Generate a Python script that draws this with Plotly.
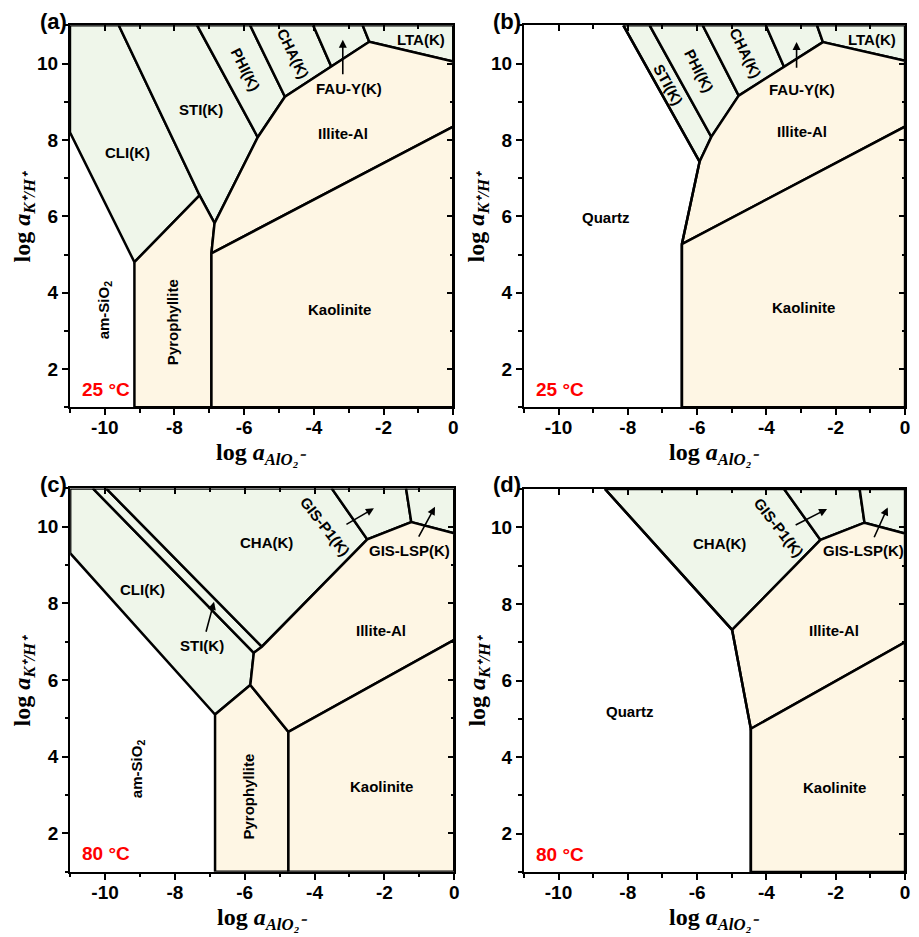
import plotly.graph_objects as go

W, H = 919, 937
OFF = 8  # default page body margin in the written html
FW, FH = W - OFF, H - OFF
GREEN = "rgb(239,246,234)"
BEIGE = "rgb(254,246,228)"

# tick labels
x_tickvals = [-10, -8, -6, -4, -2, 0]
x_ticktext = ["-10", "-8", "-6", "-4", "-2", "0"]
y_tickvals = [2, 4, 6, 8, 10]
y_ticktext = ["2", "4", "6", "8", "10"]
x_range = [-11, 0]
y_range = [1, 11]

# ---- panel (a): 25 °C, with am-SiO2 ----
a_zeolites = {
    "CLI": [(-11, 8.2), (-11, 11), (-9.6, 11), (-7.28, 6.55), (-9.15, 4.8)],
    "STI": [(-9.6, 11), (-7.35, 11), (-5.61, 8.07), (-6.85, 5.82), (-7.28, 6.55)],
    "PHI": [(-7.35, 11), (-5.83, 11), (-4.83, 9.13), (-5.61, 8.07)],
    "CHA": [(-5.83, 11), (-4.02, 11), (-3.5, 9.92), (-4.83, 9.13)],
    "FAU": [(-4.02, 11), (-2.6, 11), (-2.41, 10.57), (-3.5, 9.92)],
    "LTA": [(-2.6, 11), (0, 11), (0, 10.05), (-2.41, 10.57)],
}
a_clays = {
    "Pyrophyllite": [(-9.15, 4.8), (-7.28, 6.55), (-6.85, 5.82), (-6.94, 5.03), (-6.94, 1), (-9.15, 1)],
    "Illite": [(-6.85, 5.82), (-5.61, 8.07), (-4.83, 9.13), (-3.5, 9.92), (-2.41, 10.57),
               (0, 10.05), (0, 8.35), (-6.94, 5.03)],
    "Kaolinite": [(-6.94, 5.03), (0, 8.35), (0, 1), (-6.94, 1)],
}

# ---- panel (b): 25 °C, with quartz ----
b_zeolites = {
    "STI": [(-8.13, 11), (-7.37, 11), (-5.59, 8.08), (-5.93, 7.43)],
    "PHI": [(-7.37, 11), (-5.84, 11), (-4.8, 9.16), (-5.59, 8.08)],
    "CHA": [(-5.84, 11), (-4.02, 11), (-3.49, 9.91), (-4.8, 9.16)],
    "FAU": [(-4.02, 11), (-2.54, 11), (-2.37, 10.56), (-3.49, 9.91)],
    "LTA": [(-2.54, 11), (0, 11), (0, 10.07), (-2.37, 10.56)],
}
b_clays = {
    "Illite": [(-5.93, 7.43), (-5.59, 8.08), (-4.8, 9.16), (-3.49, 9.91), (-2.37, 10.56),
               (0, 10.07), (0, 8.35), (-6.44, 5.27)],
    "Kaolinite": [(-6.44, 5.27), (0, 8.35), (0, 1), (-6.44, 1)],
}
b_lines = [[(-8.13, 11), (-5.93, 7.43), (-6.44, 5.27), (-6.44, 1)]]

# ---- panel (c): 80 °C, with am-SiO2 ----
c_zeolites = {
    "CLI": [(-11, 9.31), (-11, 11), (-10.35, 11), (-5.74, 6.71), (-5.84, 5.87), (-6.85, 5.1)],
    "STI": [(-10.35, 11), (-9.97, 11), (-5.51, 6.87), (-5.74, 6.71)],
    "CHA": [(-9.97, 11), (-3.51, 11), (-2.49, 9.67), (-5.51, 6.87)],
    "GISP1": [(-3.51, 11), (-1.38, 11), (-1.23, 10.12), (-2.49, 9.67)],
    "GISLSP": [(-1.38, 11), (0, 11), (0, 9.83), (-1.23, 10.12)],
}
c_clays = {
    "Pyrophyllite": [(-6.85, 5.1), (-5.84, 5.87), (-4.75, 4.65), (-4.75, 1), (-6.85, 1)],
    "Illite": [(-5.84, 5.87), (-5.74, 6.71), (-5.51, 6.87), (-2.49, 9.67), (-1.23, 10.12),
               (0, 9.83), (0, 7.05), (-4.75, 4.65)],
    "Kaolinite": [(-4.75, 4.65), (0, 7.05), (0, 1), (-4.75, 1)],
}

# ---- panel (d): 80 °C, with quartz ----
d_zeolites = {
    "CHA": [(-8.66, 11), (-3.49, 11), (-2.44, 9.67), (-4.99, 7.32)],
    "GISP1": [(-3.49, 11), (-1.31, 11), (-1.17, 10.12), (-2.44, 9.67)],
    "GISLSP": [(-1.31, 11), (0, 11), (0, 9.84), (-1.17, 10.12)],
}
d_clays = {
    "Illite": [(-4.99, 7.32), (-2.44, 9.67), (-1.17, 10.12), (0, 9.84), (0, 7.0), (-4.45, 4.74)],
    "Kaolinite": [(-4.45, 4.74), (0, 7.0), (0, 1), (-4.45, 1)],
}
d_lines = [[(-8.66, 11), (-4.99, 7.32), (-4.45, 4.74), (-4.45, 1)]]

# region labels: (text, x, y, angle)
a_labels = [("CLI(K)", -9.35, 7.66, 0), ("STI(K)", -7.23, 8.8, 0), ("PHI(K)", -5.97, 9.83, 63),
            ("CHA(K)", -4.59, 10.27, 64), ("Illite-Al", -3.17, 8.17, 0), ("LTA(K)", -0.93, 10.63, 0),
            ("FAU-Y(K)", -2.98, 9.35, 0), ("am-SiO<sub>2</sub>", -10.01, 3.55, -90),
            ("Pyrophyllite", -8.06, 3.24, -90), ("Kaolinite", -3.26, 3.57, 0)]
b_labels = [("STI(K)", -6.84, 9.44, 61), ("PHI(K)", -5.95, 9.81, 63), ("CHA(K)", -4.59, 10.27, 64),
            ("FAU-Y(K)", -2.97, 9.31, 0), ("Illite-Al", -2.98, 8.23, 0), ("LTA(K)", -0.96, 10.63, 0),
            ("Quartz", -8.63, 5.97, 0), ("Kaolinite", -2.92, 3.62, 0)]
c_labels = [("CHA(K)", -5.39, 9.58, 0), ("CLI(K)", -8.93, 8.37, 0), ("STI(K)", -7.23, 6.89, 0),
            ("Illite-Al", -2.11, 7.3, 0), ("GIS-P1(K)", -3.7, 10.0, 52), ("GIS-LSP(K)", -1.28, 9.39, 0),
            ("am-SiO<sub>2</sub>", -9.07, 3.69, -90), ("Pyrophyllite", -5.89, 2.95, -90),
            ("Kaolinite", -2.09, 3.21, 0)]
d_labels = [("CHA(K)", -5.36, 9.57, 0), ("GIS-P1(K)", -3.64, 10.0, 52), ("GIS-LSP(K)", -1.21, 9.39, 0),
            ("Illite-Al", -2.06, 7.3, 0), ("Quartz", -7.94, 5.19, 0), ("Kaolinite", -2.03, 3.21, 0)]

# arrows: (tail_x, tail_y, head_x, head_y)
a_arrows = [(-3.17, 9.68, -3.17, 10.62)]
b_arrows = [(-3.13, 9.85, -3.13, 10.56)]
c_arrows = [(-7.12, 7.22, -6.88, 8.04), (-3.13, 10.04, -2.3, 10.48), (-1.04, 9.7, -0.55, 10.52)]
d_arrows = [(-3.2, 10.04, -2.25, 10.48), (-0.91, 9.7, -0.5, 10.52)]

temps = ["25 °C", "25 °C", "80 °C", "80 °C"]
panel_tags = ["(a)", "(b)", "(c)", "(d)"]

# layout geometry (screen pixels)
x_px = [(70.3, 455.7), (526.7, 910.0), (70.5, 456.7), (526.7, 910.0)]
y_px = [(25.3, 407.3), (25.3, 407.3), (488.4, 871.7), (489.0, 872.0)]


def fx(px):
    return (px - OFF) / FW


def fy(py):
    return 1 - (py - OFF) / FH


panels = [
    (a_zeolites, a_clays, [], a_labels, a_arrows),
    (b_zeolites, b_clays, b_lines, b_labels, b_arrows),
    (c_zeolites, c_clays, [], c_labels, c_arrows),
    (d_zeolites, d_clays, d_lines, d_labels, d_arrows),
]

fig = go.Figure()
annotations = []
LW = 2.5
lab_font = dict(family="Liberation Sans, Arial", size=15, color="black", weight="bold")
ttl_font = dict(family="Liberation Serif, Times New Roman", size=24, color="black", weight="bold")
xtitle = "log <i>a</i><sub><i>AlO₂⁻</i></sub>"
ytitle = "log <i>a</i><sub><i>K⁺/H⁺</i></sub>"

for i, (zeo, clay, lines, labels, arrows) in enumerate(panels):
    n = i + 1
    xr = "x" if n == 1 else f"x{n}"
    yr = "y" if n == 1 else f"y{n}"
    for group, col in ((zeo, GREEN), (clay, BEIGE)):
        for name, pts in group.items():
            xs = [p[0] for p in pts] + [pts[0][0]]
            ys = [p[1] for p in pts] + [pts[0][1]]
            fig.add_trace(go.Scatter(x=xs, y=ys, mode="lines", fill="toself", fillcolor=col,
                                     line=dict(color="black", width=LW), xaxis=xr, yaxis=yr,
                                     showlegend=False, hoverinfo="skip", name=name))
    for pts in lines:
        fig.add_trace(go.Scatter(x=[p[0] for p in pts], y=[p[1] for p in pts], mode="lines",
                                 line=dict(color="black", width=LW), xaxis=xr, yaxis=yr,
                                 showlegend=False, hoverinfo="skip"))
    # dummy trace for mirrored tick axes
    fig.add_trace(go.Scatter(x=[None], y=[None], xaxis=f"x{n+4}", yaxis=f"y{n+4}",
                             showlegend=False, hoverinfo="skip"))
    for txt, tx, ty, ang in labels:
        annotations.append(dict(x=tx, y=ty, xref=xr, yref=yr, text=txt, showarrow=False,
                                textangle=ang, font=lab_font))
    for t0x, t0y, hx, hy in arrows:
        annotations.append(dict(x=hx, y=hy, ax=t0x, ay=t0y, xref=xr, yref=yr, axref=xr, ayref=yr,
                                text="", showarrow=True, arrowhead=2, arrowsize=1, arrowwidth=1.6,
                                arrowcolor="black"))

    x0, x1 = x_px[i]
    yt, yb = y_px[i]
    xdom = [fx(x0), fx(x1)]
    ydom = [fy(yb), fy(yt)]
    common = dict(showgrid=False, zeroline=False, tickcolor="black", tickwidth=2,
                  tickfont=dict(family="Liberation Sans, Arial", size=19, color="black", weight="bold"))
    xkey = "xaxis" if n == 1 else f"xaxis{n}"
    ykey = "yaxis" if n == 1 else f"yaxis{n}"
    fig.layout[xkey] = dict(domain=xdom, anchor=yr, range=x_range, tickmode="array",
                            tickvals=x_tickvals, ticktext=x_ticktext, ticks="outside", ticklen=6,
                            ticklabelstandoff=-4,
                            showline=True, linewidth=2, linecolor="black", mirror=True,
                            minor=dict(tickmode="linear", tick0=0, dtick=1, ticks="outside",
                                       ticklen=3.5, tickwidth=2, tickcolor="black"),
                            **common)
    fig.layout[ykey] = dict(domain=ydom, anchor=xr, range=y_range, tickmode="array",
                            tickvals=y_tickvals, ticktext=y_ticktext, ticks="outside", ticklen=6,
                            showline=True, linewidth=2, linecolor="black", mirror=True,
                            minor=dict(tickmode="linear", tick0=0, dtick=1, ticks="outside",
                                       ticklen=3.5, tickwidth=2, tickcolor="black"),
                            **common)
    fig.layout[f"xaxis{n+4}"] = dict(overlaying=xr, anchor=f"y{n+4}", side="top", range=x_range,
                                     tickmode="array", tickvals=x_tickvals, ticks="inside", ticklen=6,
                                     showticklabels=False, showline=False, showgrid=False, zeroline=False,
                                     tickcolor="black", tickwidth=2,
                                     minor=dict(tickmode="linear", tick0=0, dtick=1, ticks="inside",
                                                ticklen=3.5, tickwidth=2, tickcolor="black"))
    fig.layout[f"yaxis{n+4}"] = dict(overlaying=yr, anchor=f"x{n+4}", side="right", range=y_range,
                                     tickmode="array", tickvals=y_tickvals, ticks="inside", ticklen=6,
                                     showticklabels=False, showline=False, showgrid=False, zeroline=False,
                                     tickcolor="black", tickwidth=2,
                                     minor=dict(tickmode="linear", tick0=0, dtick=1, ticks="inside",
                                                ticklen=3.5, tickwidth=2, tickcolor="black"))

    # temperature label
    annotations.append(dict(x=fx(x0 + 10), y=fy(yb - 18), xref="paper", yref="paper", text=temps[i],
                            showarrow=False, xanchor="left", yanchor="middle",
                            font=dict(family="Liberation Sans, Arial", size=19, color="red", weight="bold")))
    # panel tag
    annotations.append(dict(x=fx(x0 - 17), y=fy(yt - 4), xref="paper", yref="paper", text=panel_tags[i],
                            showarrow=False, xanchor="center", yanchor="middle",
                            font=dict(family="Liberation Sans, Arial", size=22, color="black", weight="bold")))
    # axis titles
    annotations.append(dict(x=fx((x0 + x1) / 2), y=fy(yb + 47), xref="paper", yref="paper",
                            text=xtitle, showarrow=False,
                            xanchor="center", yanchor="middle", font=ttl_font))
    annotations.append(dict(x=fx(x0 - 46), y=fy((yt + yb) / 2), xref="paper", yref="paper",
                            text=ytitle, showarrow=False, textangle=-90,
                            xanchor="center", yanchor="middle", font=ttl_font))

fig.update_layout(width=FW, height=FH, margin=dict(l=0, r=0, t=0, b=0), plot_bgcolor="white",
                  paper_bgcolor="white", annotations=annotations, showlegend=False)
fig.write_html("out.html")
